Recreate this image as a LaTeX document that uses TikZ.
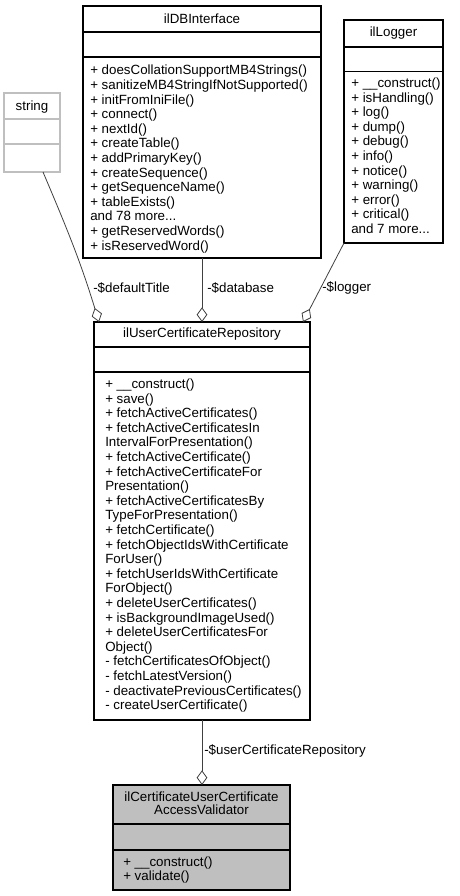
\documentclass[tikz,border=0pt]{standalone}
\usepackage{fontspec}
\setmainfont{Liberation Sans}
\usetikzlibrary{arrows.meta}
\definecolor{edgegray}{HTML}{404040}
\definecolor{extgray}{HTML}{BFBFBF}
\tikzset{
  cls/.style={draw, line width=0.8pt, inner sep=0pt, outer sep=0pt},
  divider/.style={line width=0.8pt},
  title/.style={font=\fontsize{10}{9.75}\selectfont, align=center, inner sep=0pt},
  ops/.style={font=\fontsize{10}{#1}\selectfont, align=left, anchor=north west, inner sep=0pt},
  rolelabel/.style={font=\fontsize{10}{12}\selectfont, anchor=west, inner sep=0pt},
  usage/.style={draw=edgegray, line width=0.6pt, -{Diamond[open, length=11pt, width=8pt]}},
}
\begin{document}
\begin{tikzpicture}[x=0.75pt, y=-0.75pt]
  \useasboundingbox (0,0) rectangle (460,896);
  \node[cls, draw=extgray, minimum width=42pt, minimum height=59.25pt] (string) at (32,132.5) {};
  \draw[divider, extgray] (4,119) -- (60,119) (4,144) -- (60,144);
  \node[title] (string-title) at (32,107) {string};

  \node[cls, minimum width=178.5pt, minimum height=189pt] (db) at (202,132) {};
  \draw[divider] (83,32) -- (321,32) (83,57) -- (321,57);
  \node[title] (db-title) at (202,19) {ilDBInterface};
  \node[ops=10.95pt] (db-ops) at (90,65) {+ doesCollationSupportMB4Strings()\\
    + sanitizeMB4StringIfNotSupported()\\
    + initFromIniFile()\\
    + connect()\\
    + nextId()\\
    + createTable()\\
    + addPrimaryKey()\\
    + createSequence()\\
    + getSequenceName()\\
    + tableExists()\\
    and 78 more...\\
    + getReservedWords()\\
    + isReservedWord()};

  \node[cls, minimum width=74.25pt, minimum height=167.25pt] (logger) at (393.5,131.5) {};
  \draw[divider] (344,47) -- (443,47) (344,71.5) -- (443,71.5);
  \node[title] (logger-title) at (393.5,33.5) {ilLogger};
  \node[ops=10.95pt] (logger-ops) at (351,77.5) {+ \_\_construct()\\
    + isHandling()\\
    + log()\\
    + dump()\\
    + debug()\\
    + info()\\
    + notice()\\
    + warning()\\
    + error()\\
    + critical()\\
    and 7 more...};

  \node[cls, minimum width=162pt, minimum height=298.5pt] (repo) at (202,521) {};
  \draw[divider] (94,347) -- (310,347) (94,372) -- (310,372);
  \node[title] (repo-title) at (202,334) {ilUserCertificateRepository};
  \node[ops=10.95pt] (repo-ops) at (105,378.5) {+ \_\_construct()\\
    + save()\\
    + fetchActiveCertificates()\\
    + fetchActiveCertificatesIn\\
    IntervalForPresentation()\\
    + fetchActiveCertificate()\\
    + fetchActiveCertificateFor\\
    Presentation()\\
    + fetchActiveCertificatesBy\\
    TypeForPresentation()\\
    + fetchCertificate()\\
    + fetchObjectIdsWithCertificate\\
    ForUser()\\
    + fetchUserIdsWithCertificate\\
    ForObject()\\
    + deleteUserCertificates()\\
    + isBackgroundImageUsed()\\
    + deleteUserCertificatesFor\\
    Object()\\
    - fetchCertificatesOfObject()\\
    - fetchLatestVersion()\\
    - deactivatePreviousCertificates()\\
    - createUserCertificate()};

  \node[cls, fill=extgray, minimum width=132.75pt, minimum height=78.75pt] (validator) at (201.5,837.5) {};
  \draw[divider] (113,824) -- (290,824) (113,850) -- (290,850);
  \node[title] (validator-title) at (201.5,803.5) {ilCertificateUserCertificate\\AccessValidator};
  \node[ops=10pt] (validator-ops) at (123,857) {+ \_\_construct()\\
    + validate()};

  \draw[usage] ([xshift=8.25pt]string.south) to[out=-67, in=107] ([xshift=3.75pt]repo.north west);
  \draw[usage] (db.south) -- (repo.north);
  \draw[usage] (logger.south west) -- ([xshift=-5.25pt]repo.north east);
  \draw[usage] (repo.south) -- (repo.south |- validator.north);

  \node[rolelabel] (lbl-title) at (93,288) {-\$defaultTitle};
  \node[rolelabel] (lbl-db) at (207,288) {-\$database};
  \node[rolelabel] (lbl-logger) at (322,288) {-\$logger};
  \node[rolelabel] (lbl-repo) at (204,751) {-\$userCertificateRepository};
\end{tikzpicture}
\end{document}
